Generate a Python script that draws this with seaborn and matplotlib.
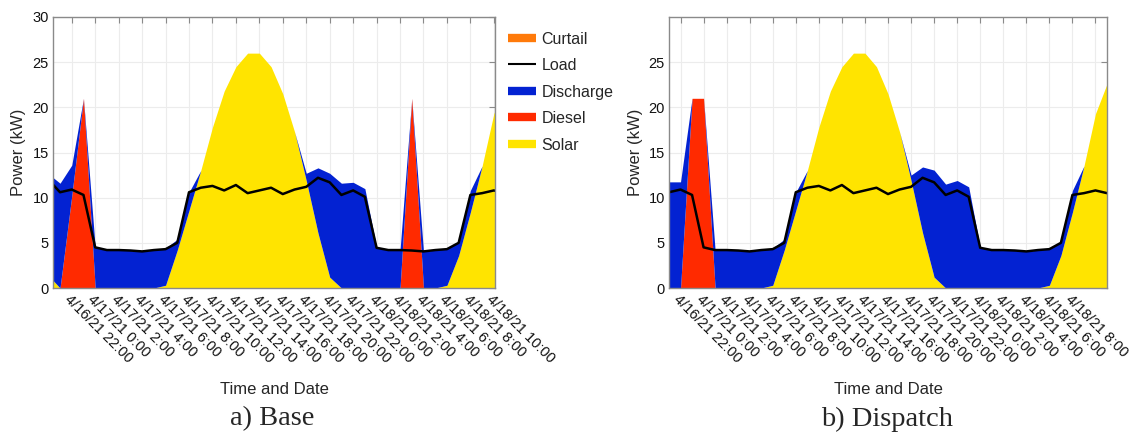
import pandas as pd
import matplotlib
matplotlib.use("Agg")
import matplotlib.pyplot as plt
import seaborn as sns
from matplotlib.lines import Line2D

# hourly samples, 4/16/21 20:00 -> 4/18/21 11:00
hours = pd.date_range("2021-04-16 20:00", "2021-04-18 11:00", freq="h")

load_kw = [12.0, 10.6, 10.9, 10.3, 4.5, 4.2, 4.2, 4.15, 4.05, 4.2,
           4.3, 5.0, 10.6, 11.1, 11.3, 10.8, 11.4, 10.5, 10.8, 11.1,
           10.4, 10.9, 11.2, 12.2, 11.7, 10.3, 10.8, 10.1, 4.45, 4.2,
           4.2, 4.15, 4.05, 4.2, 4.3, 5.0, 10.3, 10.5, 10.8, 10.5]

solar_kw = [1.4, 0, 0, 0, 0, 0, 0, 0, 0, 0,
            0.3, 4.2, 8.6, 13.0, 17.8, 21.8, 24.5, 26.0, 26.0, 24.5,
            21.5, 17.3, 11.9, 6.1, 1.2, 0, 0, 0, 0, 0,
            0, 0, 0, 0, 0.3, 3.6, 8.4, 13.5, 19.3, 22.6]

base_diesel_kw = [0, 0, 10.2, 21.0, 0, 0, 0, 0, 0, 0,
                  0, 0, 0, 0, 0, 0, 0, 0, 0, 0,
                  0, 0, 0, 0, 0, 0, 0, 0, 0, 0,
                  0, 21.0, 0, 0, 0, 0, 0, 0, 0, 0]

base_discharge_kw = [11.25, 11.6, 3.4, 0, 4.5, 4.2, 4.2, 4.15, 4.05, 4.2,
                     4.1, 1.2, 2.0, 0, 0, 0, 0, 0, 0, 0,
                     0, 0, 0.8, 7.2, 11.5, 11.6, 11.7, 11.0, 4.5, 4.2,
                     4.2, 0, 4.05, 4.2, 4.05, 1.5, 2.4, 0, 0, 0]

dispatch_diesel_kw = [0, 0, 0, 21.0, 21.0, 0, 0, 0, 0, 0,
                      0, 0, 0, 0, 0, 0, 0, 0, 0, 0,
                      0, 0, 0, 0, 0, 0, 0, 0, 0, 0,
                      0, 0, 0, 0, 0, 0, 0, 0, 0, 0]

dispatch_discharge_kw = [11.3, 11.75, 11.75, 0, 0, 4.2, 4.2, 4.15, 4.05, 4.2,
                         4.1, 1.2, 2.0, 0, 0, 0, 0, 0, 0, 0,
                         0, 0, 0.6, 7.3, 11.85, 11.5, 11.9, 11.2, 4.5, 4.2,
                         4.2, 4.15, 4.05, 4.2, 4.05, 1.5, 2.4, 0, 0, 0]

tick_times = pd.date_range("2021-04-16 22:00", "2021-04-18 10:00", freq="2h")
base_tick_labels = ["4/16/21 22:00", "4/17/21 0:00", "4/17/21 2:00", "4/17/21 4:00",
                    "4/17/21 6:00", "4/17/21 8:00", "4/17/21 10:00", "4/17/21 12:00",
                    "4/17/21 14:00", "4/17/21 16:00", "4/17/21 18:00", "4/17/21 20:00",
                    "4/17/21 22:00", "4/18/21 0:00", "4/18/21 2:00", "4/18/21 4:00",
                    "4/18/21 6:00", "4/18/21 8:00", "4/18/21 10:00"]
dispatch_tick_labels = base_tick_labels[:-1] + [""]

colors = {"Curtail": "#FF7A0A", "Discharge": "#0322D2",
          "Diesel": "#FF2A00", "Solar": "#FFE400"}

sns.set_style("white")
plt.rcParams["font.family"] = ["Liberation Sans", "DejaVu Sans"]

fig = plt.figure(figsize=(11.31, 4.46), dpi=100)
ax1 = fig.add_axes([53 / 1131, 158 / 446, 442 / 1131, 271 / 446])
ax2 = fig.add_axes([669 / 1131, 158 / 446, 438 / 1131, 271 / 446])


def draw_panel(ax, diesel, discharge, xlim, yticks, tick_labels):
    ax.stackplot(hours.values, solar_kw, diesel, discharge,
                 colors=[colors["Solar"], colors["Diesel"], colors["Discharge"]],
                 linewidth=0)
    sns.lineplot(x=hours, y=load_kw, ax=ax, color="black", lw=1.8, legend=False)
    ax.set_xlim(pd.Timestamp(xlim[0]), pd.Timestamp(xlim[1]))
    ax.set_ylim(0, 30)
    ax.set_yticks(yticks)
    ax.set_xticks(tick_times)
    ax.set_xticklabels(tick_labels, rotation=-45, ha="left", va="top",
                       rotation_mode="anchor")
    ax.grid(True, color="#ececec", lw=0.8)
    ax.set_axisbelow(True)
    ax.tick_params(direction="in", top=True, right=True, length=4, width=0.8,
                   color="#8a8a8a", labelsize=10.5, labelcolor="#111111", pad=3)
    for s in ax.spines.values():
        s.set_color("#8a8a8a")
        s.set_linewidth(1.0)
    ax.set_ylabel("Power (kW)", fontsize=12)
    ax.yaxis.set_label_coords(-0.06, 0.5)
    ax.set_xlabel("Time and Date", fontsize=12)
    ax.xaxis.set_label_coords(0.5, -0.375)
    ax.xaxis.label.set_va("center")


draw_panel(ax1, base_diesel_kw, base_discharge_kw,
           ("2021-04-16 20:24", "2021-04-18 10:06"), [0, 5, 10, 15, 20, 25, 30],
           base_tick_labels)
draw_panel(ax2, dispatch_diesel_kw, dispatch_discharge_kw,
           ("2021-04-16 21:00", "2021-04-18 11:00"), [0, 5, 10, 15, 20, 25],
           dispatch_tick_labels)

handles = [Line2D([], [], color=colors["Curtail"], lw=6, solid_capstyle="butt"),
           Line2D([], [], color="black", lw=1.5, solid_capstyle="butt"),
           Line2D([], [], color=colors["Discharge"], lw=6, solid_capstyle="butt"),
           Line2D([], [], color=colors["Diesel"], lw=6, solid_capstyle="butt"),
           Line2D([], [], color=colors["Solar"], lw=6, solid_capstyle="butt")]
ax1.legend(handles, ["Curtail", "Load", "Discharge", "Diesel", "Solar"],
           loc="upper left", bbox_to_anchor=(1.015, 0.97), frameon=False,
           fontsize=11.5, handlelength=1.75, handletextpad=0.35,
           labelspacing=0.72, borderaxespad=0)

serif = ["Liberation Serif", "DejaVu Serif"]
fig.text(272 / 1131, 1 - 419 / 446, "a) Base", family=serif, fontsize=20.5,
         ha="center", va="center")
fig.text(887 / 1131, 1 - 419 / 446, "b) Dispatch", family=serif, fontsize=20.5,
         ha="center", va="center")

fig.savefig("out.png", dpi=100)
